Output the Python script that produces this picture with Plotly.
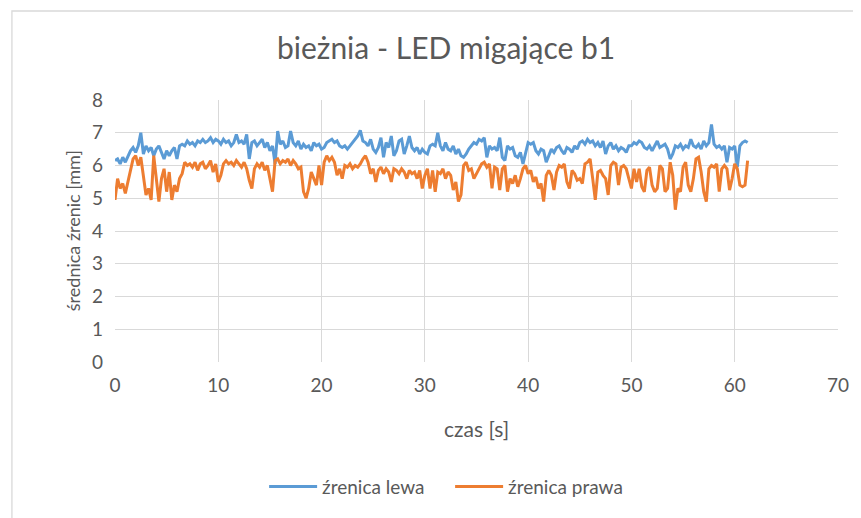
import plotly.graph_objects as go

# time axis: samples every 0.25 s from 0 to 61.25 s
time_s = [i * 0.25 for i in range(246)]

lewa_0_10 = [6.15, 6.2, 6.05, 6.25, 6.1, 6.3, 6.45, 6.55, 6.4, 6.6,
             7.0, 6.35, 6.6, 6.45, 6.55, 6.3, 6.5, 6.6, 6.4, 6.2,
             6.45, 6.3, 6.45, 6.55, 6.2, 6.6, 6.65, 6.6, 6.75, 6.65,
             6.7, 6.6, 6.75, 6.7, 6.8, 6.7, 6.75, 6.85, 6.7, 6.8]
lewa_10_20 = [6.75, 6.65, 6.8, 6.7, 6.75, 6.6, 6.7, 6.95, 6.7, 6.75,
              6.65, 6.95, 6.2, 6.7, 6.75, 6.6, 6.7, 6.8, 6.55, 6.7,
              6.45, 6.6, 6.05, 7.05, 6.65, 6.75, 6.55, 6.6, 7.05, 6.7,
              6.6, 6.75, 6.5, 6.65, 6.55, 6.6, 6.45, 6.7, 6.6, 6.65]
lewa_20_30 = [6.5, 6.55, 6.7, 6.75, 6.8, 6.7, 6.75, 6.6, 6.55, 6.6,
              6.5, 6.6, 6.7, 6.8, 6.9, 7.07, 6.75, 6.7, 6.6, 6.8,
              6.5, 6.4, 6.55, 6.85, 6.25, 6.7, 6.55, 6.9, 6.3, 6.45,
              6.75, 6.8, 6.35, 6.6, 6.9, 6.55, 6.45, 6.55, 6.35, 6.5]
lewa_30_40 = [6.4, 6.35, 6.6, 6.65, 6.6, 7.0, 6.6, 6.45, 6.7, 6.5,
              6.45, 6.6, 6.35, 6.5, 6.3, 6.25, 6.35, 6.5, 6.6, 6.7,
              6.65, 6.8, 6.75, 6.85, 6.25, 6.6, 6.5, 6.55, 6.45, 6.85,
              6.25, 6.15, 6.6, 6.5, 6.55, 6.3, 6.25, 6.4, 6.05, 6.4]
lewa_40_50 = [6.7, 6.65, 6.7, 6.45, 6.35, 6.5, 6.45, 6.1, 6.3, 6.5,
              6.4, 6.55, 6.6, 6.45, 6.35, 6.55, 6.5, 6.4, 6.6, 6.5,
              6.7, 6.75, 6.65, 6.8, 6.7, 6.75, 6.6, 6.7, 6.55, 6.75,
              6.35, 6.6, 6.7, 6.5, 6.6, 6.45, 6.55, 6.5, 6.4, 6.6]
lewa_50_61 = [6.6, 6.7, 6.65, 6.75, 6.7, 6.55, 6.5, 6.6, 6.45, 6.6,
              6.75, 6.55, 6.6, 6.65, 6.5, 6.2, 6.35, 6.6, 6.55, 6.65,
              6.5, 6.6, 6.55, 6.8, 6.6, 6.55, 6.65, 6.5, 6.75, 6.6,
              6.7, 7.25, 6.65, 6.55, 6.6, 6.5, 6.6, 6.1, 6.55, 6.5,
              6.6, 5.95, 6.6, 6.7, 6.75, 6.7]

prawa_0_10 = [4.95, 5.6, 5.3, 5.45, 5.15, 5.5, 5.9, 6.2, 6.3, 6.0,
              6.25, 5.6, 5.1, 5.3, 4.95, 6.3, 5.5, 4.9, 5.6, 5.9,
              5.2, 5.8, 4.95, 5.4, 5.2, 5.6, 5.75, 6.1, 6.0, 6.05,
              5.95, 6.1, 5.85, 6.05, 6.1, 5.9, 6.0, 6.15, 5.8, 6.05]
prawa_10_20 = [5.5, 5.7, 6.05, 6.15, 6.05, 6.1, 6.0, 6.15, 6.05, 5.95,
               6.1, 5.9, 5.55, 5.3, 5.9, 6.05, 5.95, 6.1, 5.85, 6.0,
               5.6, 5.2, 6.15, 6.2, 6.05, 6.15, 6.1, 6.2, 6.0, 6.15,
               6.05, 5.9, 5.95, 5.2, 5.0, 5.3, 5.8, 5.6, 5.4, 6.0]
prawa_20_30 = [5.4, 6.1, 6.3, 6.15, 6.25, 6.1, 5.7, 5.9, 5.6, 6.0,
               5.95, 6.05, 5.9, 6.0, 5.95, 6.05, 6.2, 6.3, 6.1, 5.75,
               5.9, 5.5, 5.85, 5.95, 5.75, 5.9, 5.8, 5.5, 5.9, 5.85,
               5.75, 5.9, 5.8, 5.6, 5.85, 5.75, 5.8, 5.6, 5.85, 5.3]
prawa_30_40 = [5.7, 5.9, 5.3, 5.85, 5.2, 5.8, 5.75, 5.9, 5.6, 5.8,
               5.7, 5.25, 5.5, 4.9, 5.1, 6.0, 6.1, 5.85, 5.9, 5.6,
               5.75, 5.9, 6.05, 6.1, 5.95, 6.05, 5.3, 5.95, 5.9, 5.25,
               5.9, 6.0, 5.2, 5.6, 5.45, 5.7, 5.35, 5.6, 5.9, 6.0]
prawa_40_50 = [5.75, 5.85, 5.5, 5.65, 5.3, 5.45, 4.9, 5.7, 5.85, 5.7,
               5.25, 5.8, 6.0, 5.95, 6.05, 5.5, 5.3, 5.85, 5.75, 5.55,
               5.6, 5.45, 6.05, 6.1, 6.2, 5.6, 4.95, 5.8, 5.85, 5.7,
               5.6, 5.1, 6.0, 6.1, 6.05, 5.4, 5.95, 6.0, 5.9, 5.6]
prawa_50_61 = [5.3, 5.9, 5.5, 5.9, 5.35, 5.2, 5.85, 5.95, 5.4, 5.2,
               5.3, 6.0, 5.9, 5.2, 5.3, 6.1, 5.7, 4.65, 5.3, 5.2,
               5.95, 6.1, 5.4, 5.2, 5.6, 6.2, 6.25, 5.8, 5.2, 4.9,
               5.9, 6.0, 5.95, 6.05, 5.2, 5.9, 6.0, 5.9, 5.25, 5.6,
               6.05, 5.9, 5.4, 5.35, 5.4, 6.15]

zrenica_lewa = lewa_0_10 + lewa_10_20 + lewa_20_30 + lewa_30_40 + lewa_40_50 + lewa_50_61
zrenica_prawa = prawa_0_10 + prawa_10_20 + prawa_20_30 + prawa_30_40 + prawa_40_50 + prawa_50_61

x_ticks = [0, 10, 20, 30, 40, 50, 60, 70]
y_ticks = [0, 1, 2, 3, 4, 5, 6, 7, 8]

FONT = "Lato, 'Open Sans', sans-serif"
TXT = "#595959"
GRID = "#d9d9d9"

fig = go.Figure()
fig.add_trace(go.Scatter(x=time_s, y=zrenica_lewa, mode="lines", name="źrenica lewa",
                         line=dict(color="#5B9BD5", width=3)))
fig.add_trace(go.Scatter(x=time_s, y=zrenica_prawa, mode="lines", name="źrenica prawa",
                         line=dict(color="#ED7D31", width=3)))

OFF = 8  # page body margin
W, H = 861 - OFF, 518 - OFF
L, T = 114.5 - OFF, 100 - OFF
R = W - (840.5 - OFF)
B = H - (365 - OFF)
pw, ph = W - L - R, H - T - B

def px(x):  # target-picture x pixel -> paper coordinate
    return (x - OFF - L) / pw

def py(y):  # target-picture y pixel -> paper coordinate
    return (H - B - (y - OFF)) / ph

fig.update_layout(
    width=W, height=H,
    margin=dict(l=L, r=R, t=T, b=B),
    paper_bgcolor="white", plot_bgcolor="white",
    font=dict(family=FONT, color=TXT, size=19),
    title=dict(text="bieżnia - LED migające b1", x=px(447), xref="paper", xanchor="center",
               y=1 - (48 - OFF) / H, yref="container", yanchor="middle",
               font=dict(size=30, color=TXT, family=FONT)),
    showlegend=True,
    legend=dict(orientation="h", x=px(451), xanchor="center", y=py(491), yanchor="middle",
                font=dict(size=19, color=TXT), itemwidth=48,
                entrywidth=123, entrywidthmode="pixels",
                bgcolor="rgba(0,0,0,0)"),
    xaxis=dict(range=[0, 70], tickvals=x_ticks, showgrid=True, gridcolor=GRID, gridwidth=1.3,
               zeroline=False, showline=False, ticks="", ticklabelstandoff=10,
               tickfont=dict(size=19, color=TXT)),
    yaxis=dict(range=[0, 8], tickvals=y_ticks, showgrid=True, gridcolor=GRID, gridwidth=1.3,
               zeroline=False, showline=False, ticks="", ticklabelstandoff=11,
               tickfont=dict(size=19, color=TXT)),
    annotations=[
        dict(text="czas [s]", x=px(477), y=py(432), xref="paper", yref="paper",
             showarrow=False, xanchor="center", yanchor="middle",
             font=dict(size=21, color=TXT)),
        dict(text="średnica źrenic [mm]", x=px(72), y=py(232), xref="paper", yref="paper",
             showarrow=False, textangle=-90, xanchor="center", yanchor="middle",
             font=dict(size=18, color=TXT)),
    ],
    shapes=[
        dict(type="rect", xref="paper", yref="paper",
             x0=px(11), x1=px(866), y0=py(540), y1=py(10),
             line=dict(color=GRID, width=1.3), fillcolor="rgba(0,0,0,0)", layer="below"),
    ],
)

fig.write_html("out.html")
